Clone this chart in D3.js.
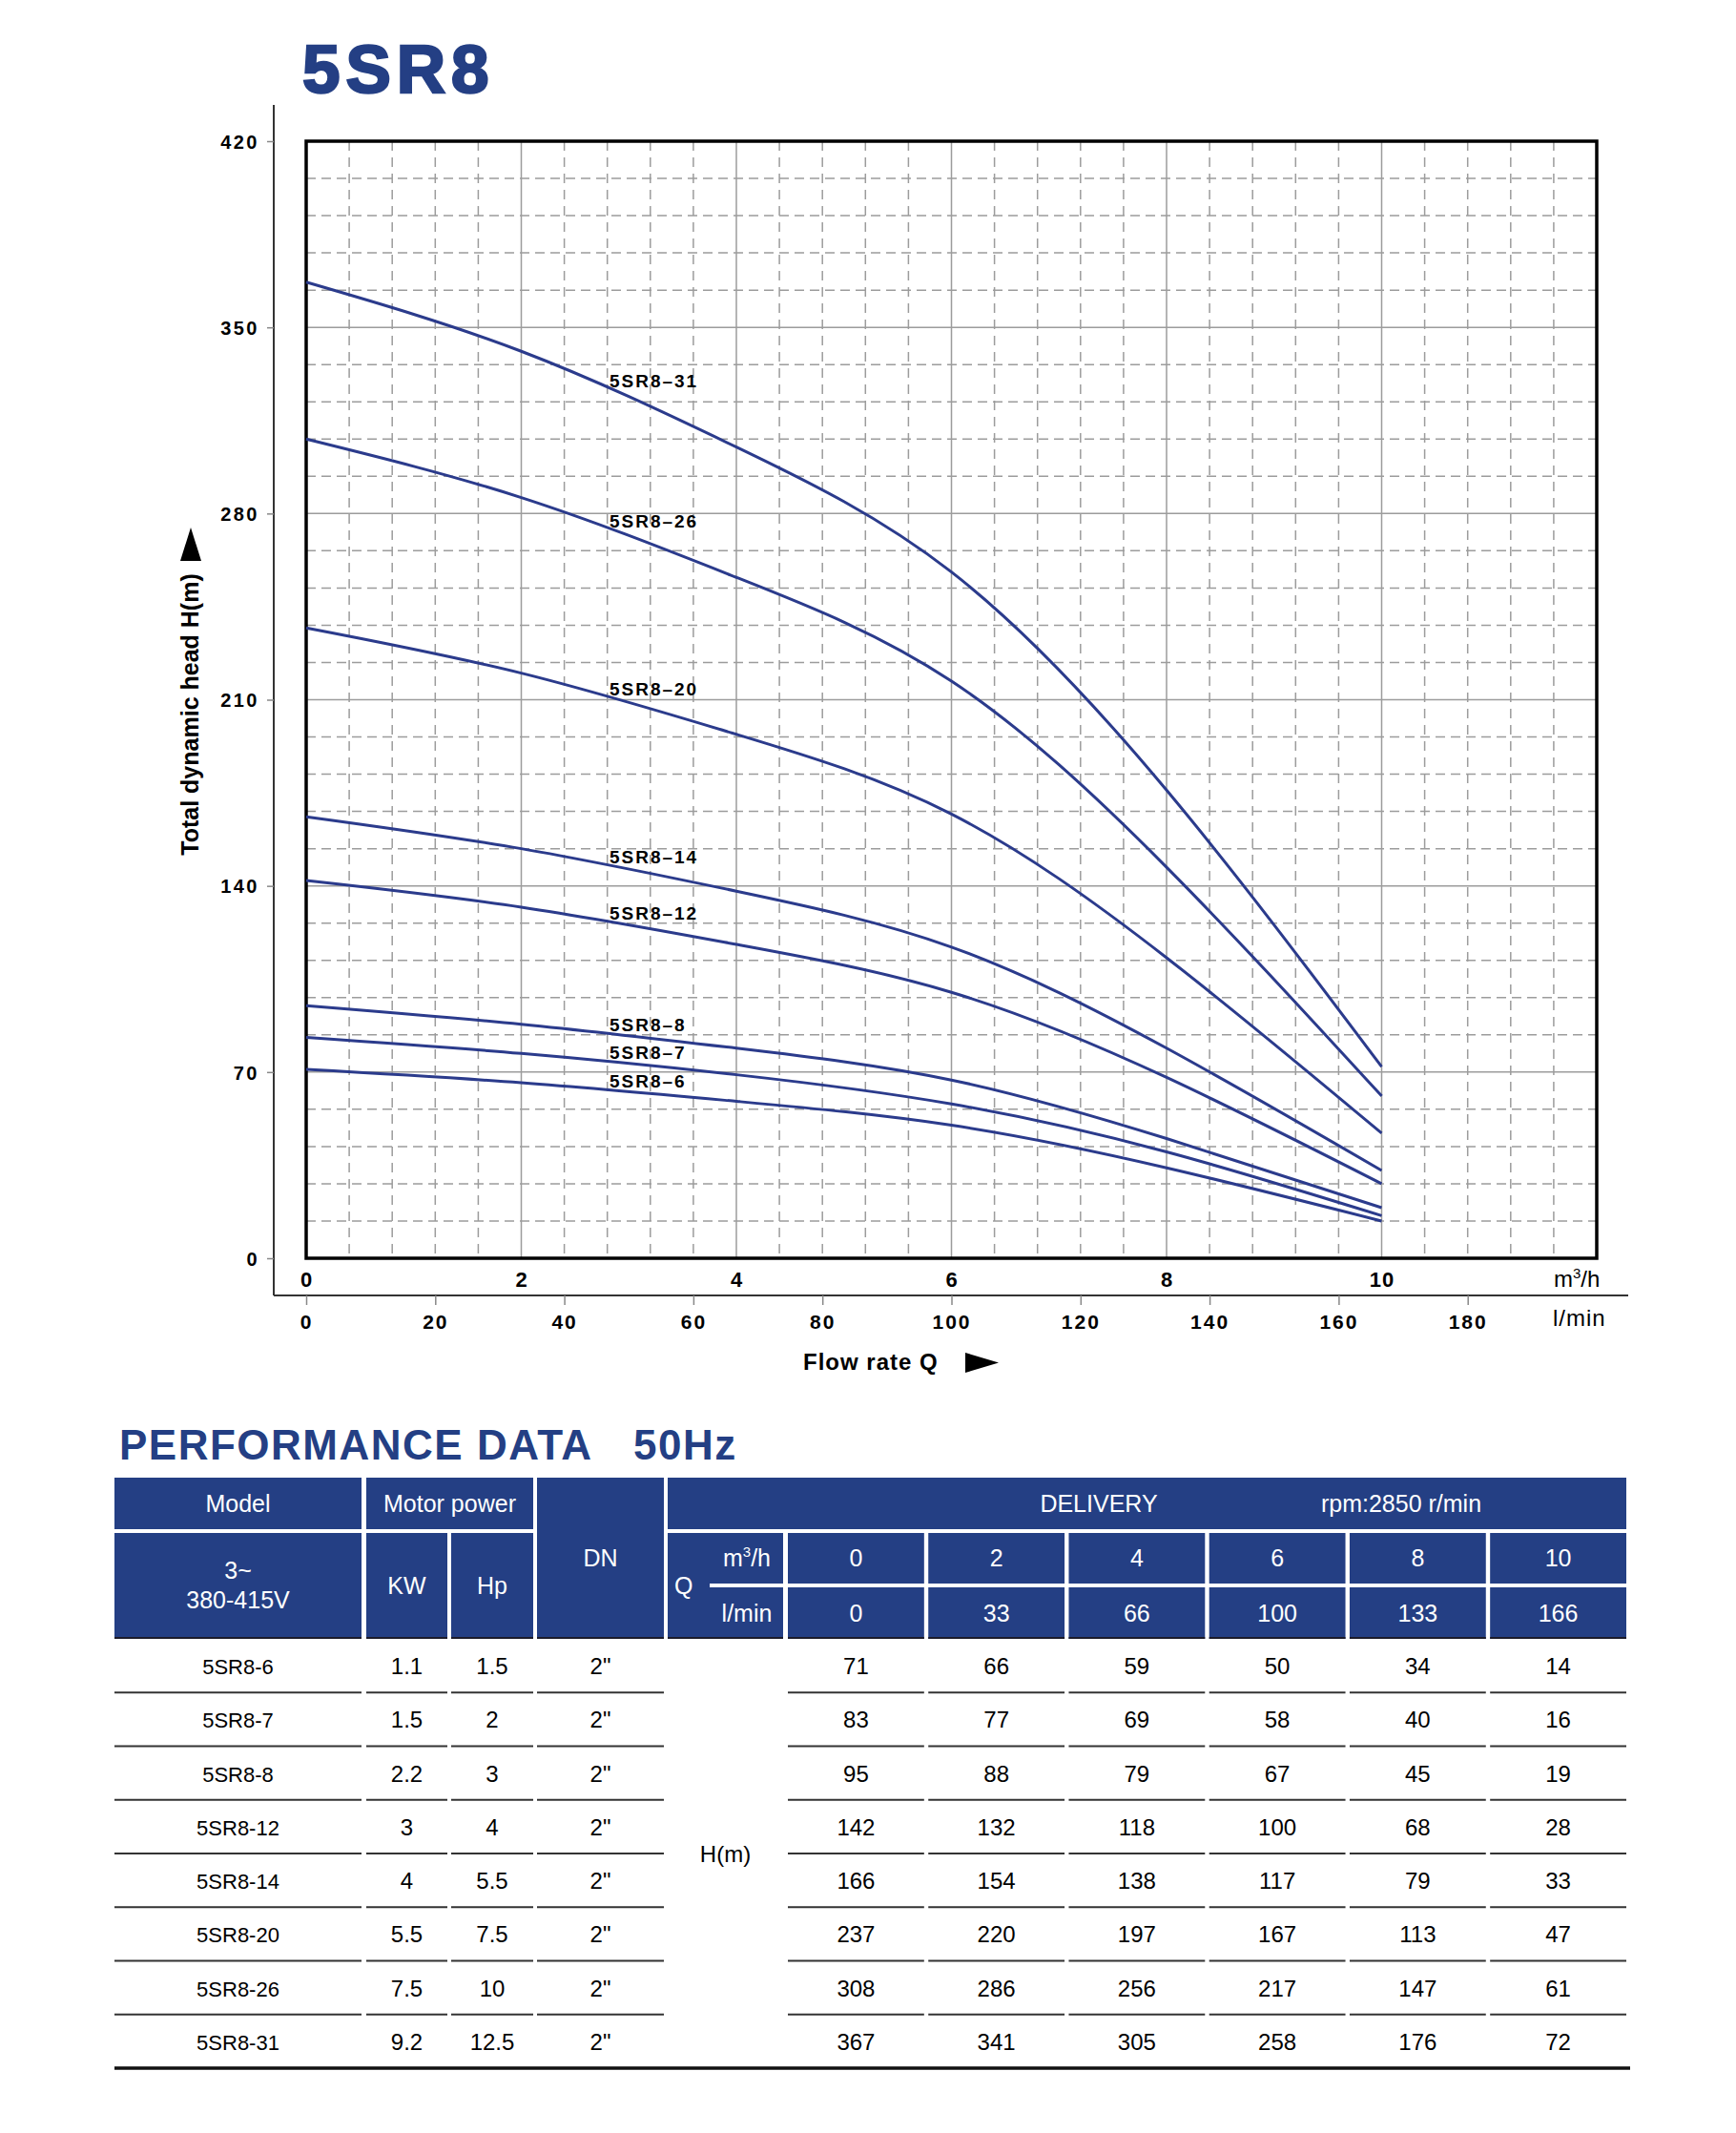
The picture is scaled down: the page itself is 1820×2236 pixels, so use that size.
<!DOCTYPE html>
<html>
<head>
<meta charset="utf-8">
<title>5SR8</title>
<script src="https://cdn.jsdelivr.net/npm/d3@7"></script>
<style>
  body { margin: 0; background: #fff; }
  svg text { font-family: "Liberation Sans", Arial, Helvetica, sans-serif; }
</style>
</head>
<body>
<script>
// ---- data read from the sheet ----
var flowM3h = [0, 2, 4, 6, 8, 10];
var flowLmin = [0, 33, 66, 100, 133, 166];

var models = ["5SR8-6", "5SR8-7", "5SR8-8", "5SR8-12", "5SR8-14", "5SR8-20", "5SR8-26", "5SR8-31"];
var kw = ["1.1", "1.5", "2.2", "3", "4", "5.5", "7.5", "9.2"];
var hp = ["1.5", "2", "3", "4", "5.5", "7.5", "10", "12.5"];
var dn = ['2"', '2"', '2"', '2"', '2"', '2"', '2"', '2"'];

var head6  = [71, 66, 59, 50, 34, 14];
var head7  = [83, 77, 69, 58, 40, 16];
var head8  = [95, 88, 79, 67, 45, 19];
var head12 = [142, 132, 118, 100, 68, 28];
var head14 = [166, 154, 138, 117, 79, 33];
var head20 = [237, 220, 197, 167, 113, 47];
var head26 = [308, 286, 256, 217, 147, 61];
var head31 = [367, 341, 305, 258, 176, 72];
var heads = [head6, head7, head8, head12, head14, head20, head26, head31];

var curveNames = ["5SR8–6", "5SR8–7", "5SR8–8", "5SR8–12", "5SR8–14", "5SR8–20", "5SR8–26", "5SR8–31"];

var yTicks = [0, 70, 140, 210, 280, 350, 420];
var xTicksM3h = [0, 2, 4, 6, 8, 10];
var xTicksLmin = [0, 20, 40, 60, 80, 100, 120, 140, 160, 180];

// ---- layout ----
var width = 1820, height = 2236;
var plot = {left: 321, right: 1674, top: 148, bottom: 1319};
var blue = "#243f84";
var curveBlue = "#2b3b8c";

var svg = d3.select("body").append("svg")
  .attr("width", width)
  .attr("height", height)
  .style("display", "block");

svg.append("rect").attr("width", width).attr("height", height).attr("fill", "#fff");

// scales
var x = d3.scaleLinear().domain([0, 12]).range([plot.left, plot.right]);
var xl = d3.scaleLinear().domain([0, 200]).range([plot.left, plot.right]);
var y = d3.scaleLinear().domain([0, 420]).range([plot.bottom, plot.top]);

// title
svg.append("text")
  .attr("x", 317).attr("y", 97)
  .attr("font-size", 71).attr("font-weight", "bold")
  .attr("letter-spacing", 6)
  .attr("fill", blue).attr("stroke", blue).attr("stroke-width", 2.5)
  .text("5SR8");

// grid
var grid = svg.append("g").attr("id", "grid");
var vSteps = d3.range(1, 30);
grid.selectAll(".vline").data(vSteps).enter().append("line")
  .attr("x1", function (i) { return x(i * 0.4); })
  .attr("x2", function (i) { return x(i * 0.4); })
  .attr("y1", plot.top).attr("y2", plot.bottom)
  .attr("stroke", "#9c9c9c").attr("stroke-width", 1.5)
  .attr("stroke-dasharray", function (i) { return i % 5 === 0 ? null : "10,7"; });

var hSteps = d3.range(1, 30);
grid.selectAll(".hline").data(hSteps).enter().append("line")
  .attr("y1", function (i) { return y(i * 14); })
  .attr("y2", function (i) { return y(i * 14); })
  .attr("x1", plot.left).attr("x2", plot.right)
  .attr("stroke", "#9c9c9c").attr("stroke-width", 1.5)
  .attr("stroke-dasharray", function (i) { return i % 5 === 0 ? null : "10,6"; });

// frame
svg.append("rect")
  .attr("x", plot.left).attr("y", plot.top)
  .attr("width", plot.right - plot.left).attr("height", plot.bottom - plot.top)
  .attr("fill", "none").attr("stroke", "#000").attr("stroke-width", 3.5);

// curves
var line = d3.line()
  .x(function (d, i) { return x(flowM3h[i]); })
  .y(function (d) { return y(d); })
  .curve(d3.curveNatural);

svg.append("g").attr("id", "curves")
  .selectAll("path").data(heads).enter().append("path")
  .attr("d", line)
  .attr("fill", "none")
  .attr("stroke", curveBlue)
  .attr("stroke-width", 3);

// curve labels
var labelQ = 2.82;
svg.append("g").attr("id", "curve_labels")
  .selectAll("text").data(heads).enter().append("text")
  .attr("x", x(labelQ))
  .attr("y", function (d) { return y(d3.scaleLinear().domain(flowM3h).range(d)(labelQ)) - 3; })
  .attr("font-size", 19).attr("font-weight", "bold").attr("letter-spacing", 2)
  .attr("fill", "#000")
  .text(function (d, i) { return curveNames[i]; });

// y axis
var axisX = 287, axisBottomY = 1358;
svg.append("line")
  .attr("x1", axisX).attr("x2", axisX).attr("y1", 110).attr("y2", axisBottomY)
  .attr("stroke", "#333").attr("stroke-width", 2);

var yAxis = svg.append("g")
  .attr("id", "y_axis")
  .attr("transform", "translate(" + axisX + ",0)")
  .call(d3.axisLeft(y).tickValues(yTicks).tickSize(7).tickPadding(8));
yAxis.select(".domain").remove();
yAxis.selectAll("line").attr("stroke", "#888").attr("stroke-width", 1.5);
yAxis.selectAll("text")
  .attr("font-family", "Liberation Sans, Arial, sans-serif")
  .attr("font-size", 20).attr("font-weight", "bold").attr("letter-spacing", 2.5)
  .attr("dy", "0.36em").attr("fill", "#000");

// y title + arrow
svg.append("text")
  .attr("transform", "translate(208,749) rotate(-90)")
  .attr("text-anchor", "middle")
  .attr("font-size", 25).attr("font-weight", "bold")
  .attr("fill", "#000")
  .text("Total dynamic head H(m)");
svg.append("path")
  .attr("d", "M200,553 L211,588 L189,588 Z")
  .attr("fill", "#000");

// lower axis line
svg.append("line")
  .attr("x1", axisX).attr("x2", 1707).attr("y1", axisBottomY).attr("y2", axisBottomY)
  .attr("stroke", "#333").attr("stroke-width", 2);

// m3/h labels
var xAxisM = svg.append("g")
  .attr("id", "x_axis_m3h")
  .attr("transform", "translate(0,1349)")
  .call(d3.axisBottom(x).tickValues(xTicksM3h).tickSize(0));
xAxisM.select(".domain").remove();
xAxisM.selectAll("text")
  .attr("y", 0).attr("dy", 0)
  .attr("font-family", "Liberation Sans, Arial, sans-serif")
  .attr("font-size", 22).attr("font-weight", "bold").attr("letter-spacing", 1)
  .attr("fill", "#000");

// l/min axis
var xAxisL = svg.append("g")
  .attr("id", "x_axis_lmin")
  .attr("transform", "translate(0," + axisBottomY + ")")
  .call(d3.axisBottom(xl).tickValues(xTicksLmin).tickSize(10));
xAxisL.select(".domain").remove();
xAxisL.selectAll("line").attr("stroke", "#888").attr("stroke-width", 1.5);
xAxisL.selectAll("text")
  .attr("y", 35).attr("dy", 0)
  .attr("font-family", "Liberation Sans, Arial, sans-serif")
  .attr("font-size", 21).attr("font-weight", "bold").attr("letter-spacing", 2)
  .attr("fill", "#000");

// unit labels
var m3 = svg.append("text").attr("x", 1629).attr("y", 1349)
  .attr("font-size", 24).attr("fill", "#000");
m3.append("tspan").text("m");
m3.append("tspan").attr("font-size", 15).attr("dy", -9).text("3");
m3.append("tspan").attr("dy", 9).text("/h");
svg.append("text").attr("x", 1628).attr("y", 1390)
  .attr("font-size", 24).attr("letter-spacing", 1).attr("fill", "#000")
  .text("l/min");

// flow rate label + arrow
svg.append("text")
  .attr("x", 842).attr("y", 1436)
  .attr("font-size", 24).attr("font-weight", "bold").attr("letter-spacing", 1)
  .attr("fill", "#000")
  .text("Flow rate Q");
svg.append("path")
  .attr("d", "M1012,1418 L1047,1428.5 L1012,1439 Z")
  .attr("fill", "#000");

// ---- performance table ----
svg.append("text")
  .attr("x", 125).attr("y", 1530)
  .attr("font-size", 44).attr("font-weight", "bold").attr("letter-spacing", 1.5)
  .attr("fill", blue)
  .text("PERFORMANCE DATA");
svg.append("text")
  .attr("x", 664).attr("y", 1530)
  .attr("font-size", 44).attr("font-weight", "bold").attr("letter-spacing", 1.5)
  .attr("fill", blue)
  .text("50Hz");

var tbl = svg.append("g").attr("id", "table");
var r1 = [1549, 1603], r2 = [1607, 1660], r3 = [1664, 1718];
var colModel = [120, 379], colKw = [384, 469], colHp = [473, 559], colDn = [563, 696], colQ = [700, 821];

var qBand = d3.scaleBand().domain(flowM3h).range([826, 1705]).paddingInner(0.03).paddingOuter(0);
var rowBand = d3.scaleBand().domain(models).range([r3[1], 2168]);

function cell(cx, cy) {
  tbl.append("rect")
    .attr("x", cx[0]).attr("y", cy[0])
    .attr("width", cx[1] - cx[0]).attr("height", cy[1] - cy[0])
    .attr("fill", blue);
}
function txt(xc, yb, s, size, color) {
  return tbl.append("text")
    .attr("x", xc).attr("y", yb)
    .attr("text-anchor", "middle")
    .attr("font-size", size || 25)
    .attr("fill", color || "#fff")
    .text(s);
}
function mid(c) { return (c[0] + c[1]) / 2; }

cell(colModel, r1);
cell([colKw[0], colHp[1]], r1);
cell(colModel, [r2[0], r3[1]]);
cell(colKw, [r2[0], r3[1]]);
cell(colHp, [r2[0], r3[1]]);
cell(colDn, [r1[0], r3[1]]);
cell([colQ[0], 1705], r1);
cell(colQ, [r2[0], r3[1]]);
flowM3h.forEach(function (q) {
  var bx = [qBand(q), qBand(q) + qBand.bandwidth()];
  cell(bx, r2);
  cell(bx, r3);
});

// header dark underline
[colModel, colKw, colHp, colDn, colQ].concat(flowM3h.map(function (q) {
  return [qBand(q), qBand(q) + qBand.bandwidth()];
})).forEach(function (c) {
  tbl.append("line").attr("x1", c[0]).attr("x2", c[1]).attr("y1", r3[1] - 1).attr("y2", r3[1] - 1)
    .attr("stroke", "#1b1b2a").attr("stroke-width", 2);
});

txt(mid(colModel), 1585, "Model");
txt(mid([colKw[0], colHp[1]]), 1585, "Motor power");
txt(mid(colModel), 1655, "3~");
txt(mid(colModel), 1686, "380-415V");
txt(mid(colKw), 1671, "KW");
txt(mid(colHp), 1671, "Hp");
txt(mid(colDn), 1642, "DN");
txt(1152, 1585, "DELIVERY");
txt(1469, 1585, "rpm:2850 r/min");

// Q cell
tbl.append("text").attr("x", 707).attr("y", 1671).attr("font-size", 25).attr("fill", "#fff").text("Q");
tbl.append("line").attr("x1", 744).attr("x2", colQ[1] + 4).attr("y1", 1662).attr("y2", 1662)
  .attr("stroke", "#fff").attr("stroke-width", 4);
var qm = tbl.append("text").attr("x", 783).attr("y", 1642).attr("text-anchor", "middle")
  .attr("font-size", 25).attr("fill", "#fff");
qm.append("tspan").text("m");
qm.append("tspan").attr("font-size", 15).attr("dy", -10).text("3");
qm.append("tspan").attr("dy", 10).text("/h");
txt(783, 1700, "l/min");

flowM3h.forEach(function (q, i) {
  var cx = qBand(q) + qBand.bandwidth() / 2;
  txt(cx, 1642, String(q));
  txt(cx, 1700, String(flowLmin[i]));
});

// body rows
var segs = [colModel, colKw, colHp, colDn].concat(flowM3h.map(function (q) {
  return [qBand(q), qBand(q) + qBand.bandwidth()];
}));

models.forEach(function (m, i) {
  var top = rowBand(m);
  var yb = top + rowBand.bandwidth() / 2 + 9;
  txt(mid(colModel), yb, m, 22, "#000");
  txt(mid(colKw), yb, kw[i], 24, "#000");
  txt(mid(colHp), yb, hp[i], 24, "#000");
  txt(mid(colDn), yb, dn[i], 24, "#000");
  flowM3h.forEach(function (q, j) {
    txt(qBand(q) + qBand.bandwidth() / 2, yb, String(heads[i][j]), 24, "#000");
  });
  var ly = top + rowBand.bandwidth();
  if (i < models.length - 1) {
    segs.forEach(function (c) {
      tbl.append("line").attr("x1", c[0]).attr("x2", c[1]).attr("y1", ly).attr("y2", ly)
        .attr("stroke", "#333").attr("stroke-width", 2);
    });
  } else {
    tbl.append("line").attr("x1", colModel[0]).attr("x2", 1709).attr("y1", ly).attr("y2", ly)
      .attr("stroke", "#111").attr("stroke-width", 3.5);
  }
});

txt(mid(colQ), 1952, "H(m)", 24, "#000");
</script>
</body>
</html>
